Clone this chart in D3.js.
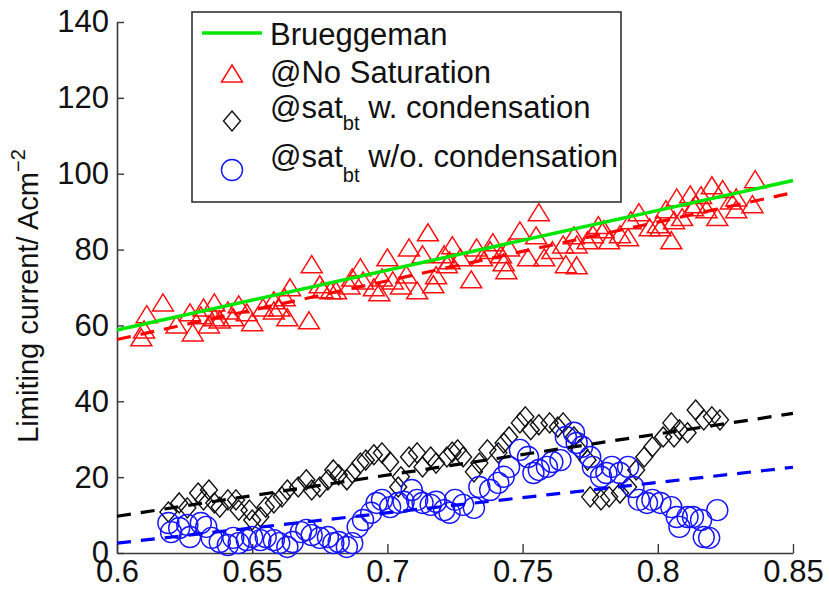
<!DOCTYPE html>
<html>
<head>
<meta charset="utf-8">
<script src="https://cdn.jsdelivr.net/npm/d3@7"></script>
<style>
html,body{margin:0;padding:0;background:#fff;}
svg text{font-family:Arial,"Liberation Sans",Helvetica,sans-serif;fill:#111;}
</style>
</head>
<body>
<svg id="chart" width="829" height="590"></svg>
<script>
// ---------- data ----------
const xTicks = [0.6, 0.65, 0.7, 0.75, 0.8, 0.85];
const xTickLabels = ["0.6", "0.65", "0.7", "0.75", "0.8", "0.85"];
const yTicks = [0, 20, 40, 60, 80, 100, 120, 140];
const yTickLabels = ["0", "20", "40", "60", "80", "100", "120", "140"];

const seriesNames = ["Brueggeman", "@No Saturation", "@sat", "@sat"];

// @No Saturation (red triangles)
const noSatX = [0.609,0.610,0.611,0.617,0.622,0.627,0.628,0.632,0.634,0.636,0.636,0.641,0.645,0.648,0.650,0.654,0.658,0.662,0.663,0.664,0.671,0.672,0.675,0.679,0.681,0.687,0.690,0.695,0.698,0.700,0.702,0.707,0.708,0.711,0.713,0.715,0.718,0.721,0.724,0.727,0.731,0.733,0.738,0.739,0.743,0.744,0.745,0.749,0.752,0.755,0.756,0.758,0.761,0.766,0.769,0.770,0.770,0.774,0.778,0.780,0.782,0.786,0.789,0.790,0.793,0.797,0.800,0.803,0.805,0.806,0.807,0.809,0.812,0.814,0.816,0.818,0.820,0.822,0.824,0.827,0.829,0.835,0.836,
  0.631,0.638,0.643,0.658,0.660,0.676,0.686,0.691,0.697,0.705,0.717,0.723,0.722,0.735,0.742,0.765,0.776,0.801,0.813,0.829];
const noSatY = [56.2,58.3,62.3,65.4,59.6,62.8,57.5,64.1,59.6,65.4,61.5,63.3,64.9,62.8,60.2,64.1,66.0,66.8,61.5,69.4,60.7,75.5,70.2,68.6,68.6,72.0,74.7,69.4,72.0,77.3,71.2,72.8,79.9,68.6,78.1,83.9,72.6,78.1,80.5,77.3,71.5,79.9,79.2,81.3,76.0,73.9,79.9,84.4,77.3,83.1,89.2,77.3,79.2,75.5,83.1,75.2,80.7,81.8,85.8,84.7,81.8,83.4,82.6,87.1,89.2,85.2,86.0,90.0,81.8,87.1,93.1,87.9,93.9,91.3,93.7,90.0,96.3,87.9,95.3,92.3,90.0,91.3,97.9,
  62.0,60.9,61.5,63.3,64.1,68.9,69.9,71.2,68.1,69.9,70.2,76.5,75.5,77.3,78.1,80.7,83.4,85.2,90.5,93.1];

// @sat_bt w. condensation (black diamonds)
const satWX = [0.619,0.623,0.626,0.630,0.632,0.634,0.636,0.638,0.641,0.644,0.645,0.649,0.650,0.653,0.655,0.658,0.661,0.663,0.667,0.670,0.672,0.675,0.678,0.680,0.682,0.685,0.687,0.690,0.692,0.695,0.698,0.701,0.704,0.705,0.708,0.711,0.713,0.716,0.718,0.722,0.724,0.726,0.728,0.732,0.734,0.737,0.741,0.743,0.745,0.749,0.751,0.753,0.756,0.760,0.763,0.765,0.769,0.771,0.774,0.775,0.779,0.782,0.786,0.789,0.792,0.795,0.798,0.802,0.805,0.806,0.808,0.811,0.814,0.817,0.820,0.823];
const satWY = [10.8,13.2,11.9,15.8,14.0,16.6,13.2,12.1,14.0,14.0,11.3,11.3,8.7,9.5,12.1,13.2,14.8,16.6,17.4,19.3,16.6,17.4,19.3,21.9,20.6,19.3,21.1,23.7,24.5,25.9,26.4,24.0,17.4,20.1,25.3,26.4,22.7,25.3,23.7,25.3,26.6,27.2,25.3,21.4,23.7,27.2,26.4,29.0,30.6,34.3,35.9,32.5,33.8,34.3,33.2,34.3,30.6,27.2,24.5,14.8,14.0,14.8,15.8,17.4,21.9,25.3,28.0,30.6,34.3,30.6,32.5,31.7,37.7,35.1,35.9,35.1];

// @sat_bt w/o. condensation (blue circles)
const satWoX = [0.619,0.620,0.623,0.626,0.627,0.631,0.633,0.635,0.638,0.641,0.643,0.645,0.648,0.650,0.653,0.655,0.658,0.660,0.663,0.665,0.668,0.670,0.672,0.675,0.678,0.680,0.682,0.685,0.687,0.689,0.691,0.694,0.696,0.698,0.701,0.704,0.706,0.709,0.711,0.713,0.716,0.718,0.721,0.723,0.725,0.728,0.732,0.734,0.738,0.741,0.743,0.745,0.749,0.752,0.754,0.756,0.759,0.761,0.764,0.766,0.769,0.770,0.772,0.775,0.776,0.779,0.781,0.783,0.786,0.789,0.791,0.793,0.796,0.798,0.801,0.805,0.807,0.808,0.811,0.813,0.816,0.817,0.819,0.822];
const satWoY = [7.9,5.5,6.6,7.4,4.2,7.9,6.9,4.0,2.9,2.1,4.0,2.6,3.4,4.2,3.4,4.2,3.4,2.6,1.6,2.9,5.5,6.1,4.7,4.0,4.2,2.6,2.9,1.6,2.6,6.9,8.7,10.6,13.2,14.0,12.1,13.2,13.5,16.6,14.0,13.2,12.7,13.5,11.3,10.6,14.0,12.7,11.9,17.4,16.6,18.5,20.1,22.7,27.2,25.3,21.1,21.9,22.7,24.0,24.5,30.6,31.7,29.0,28.0,25.3,22.7,20.1,21.1,22.7,21.1,22.7,17.4,14.0,13.2,14.0,13.2,12.1,9.5,6.9,9.5,9.5,8.7,4.2,4.0,11.3];

// fitted lines (end points)
const lineX = [0.6, 0.85];
const brueggemanY = [58.8, 98.2];
const noSatFitY = [56.3, 95.0];
const satWFitY = [9.7, 36.8];
const satWoFitY = [2.6, 22.6];

// ---------- layout ----------
const svg = d3.select("#chart");
const x = d3.scaleLinear().domain([0.6, 0.85]).range([117, 793]);
const y = d3.scaleLinear().domain([0, 140]).range([553, 22]);

const axisColor = "#3a3a3a";

// axes
const xAxis = svg.append("g").attr("transform", "translate(0,553)")
  .call(d3.axisBottom(x).tickValues(xTicks).tickFormat((d,i)=>xTickLabels[i]).tickSizeInner(-9).tickSizeOuter(0));
const yAxis = svg.append("g").attr("transform", "translate(117,0)")
  .call(d3.axisLeft(y).tickValues(yTicks).tickFormat((d,i)=>yTickLabels[i]).tickSizeInner(-7).tickSizeOuter(0));
[xAxis, yAxis].forEach(g => {
  g.select(".domain").attr("stroke", axisColor).attr("stroke-width", 1.6);
  g.selectAll(".tick line").attr("stroke", axisColor).attr("stroke-width", 1.4);
  g.selectAll(".tick text").style("font-size", "31px").attr("fill", "#111")
   .style("font-family", "Arial, 'Liberation Sans', sans-serif");
});
xAxis.selectAll(".tick text").attr("dy", null).attr("y", 582);
xAxis.selectAll(".tick text").attr("y", 29);
yAxis.selectAll(".tick text").attr("x", -8);

// y label
const yl = svg.append("text")
  .attr("transform", "translate(38,296) rotate(-90)")
  .attr("text-anchor", "middle")
  .style("font-size", "29px");
yl.append("tspan").text("Limiting current/ Acm");
yl.append("tspan").attr("dy", -13).style("font-size", "20px").text("\u22122");

// markers
const plot = svg.append("g");
const triPath = "M0,-11 L10.5,6 L-10.5,6 Z";
const diaPath = "M0,-10 L8.5,0 L0,10 L-8.5,0 Z";

plot.append("g").selectAll("path").data(d3.range(noSatX.length)).join("path")
  .attr("d", triPath)
  .attr("transform", i => `translate(${x(noSatX[i])},${y(noSatY[i])})`)
  .attr("fill", "none").attr("stroke", "#ff1010").attr("stroke-width", 1.5);

plot.append("g").selectAll("path").data(d3.range(satWX.length)).join("path")
  .attr("d", diaPath)
  .attr("transform", i => `translate(${x(satWX[i])},${y(satWY[i])})`)
  .attr("fill", "none").attr("stroke", "#111").attr("stroke-width", 1.4);

plot.append("g").selectAll("circle").data(d3.range(satWoX.length)).join("circle")
  .attr("cx", i => x(satWoX[i])).attr("cy", i => y(satWoY[i])).attr("r", 10.5)
  .attr("fill", "none").attr("stroke", "#1515ff").attr("stroke-width", 1.4);

// lines
const line = d3.line().x(d => x(d[0])).y(d => y(d[1]));
function drawLine(ys, color, dash, w) {
  svg.append("path").datum(lineX.map((v,i)=>[v, ys[i]]))
    .attr("d", line).attr("fill", "none").attr("stroke", color)
    .attr("stroke-width", w).attr("stroke-dasharray", dash);
}
drawLine(noSatFitY, "#ff0000", "14,10", 3.2);
drawLine(brueggemanY, "#00e600", null, 3.5);
drawLine(satWFitY, "#000000", "14,10", 3.2);
drawLine(satWoFitY, "#0000ff", "14,10", 3.2);

// legend
const lg = svg.append("g");
lg.append("rect").attr("x", 192).attr("y", 12).attr("width", 429).attr("height", 190)
  .attr("fill", "#fff").attr("stroke", "#333").attr("stroke-width", 1.6);
lg.append("line").attr("x1", 202).attr("x2", 262).attr("y1", 33).attr("y2", 33)
  .attr("stroke", "#00e600").attr("stroke-width", 3.5);
lg.append("path").attr("d", triPath).attr("transform", "translate(232,76)")
  .attr("fill", "none").attr("stroke", "#ff1010").attr("stroke-width", 1.5);
lg.append("path").attr("d", diaPath).attr("transform", "translate(232,121)")
  .attr("fill", "none").attr("stroke", "#111").attr("stroke-width", 1.4);
lg.append("circle").attr("cx", 232).attr("cy", 170).attr("r", 10.5)
  .attr("fill", "none").attr("stroke", "#1515ff").attr("stroke-width", 1.4);

const fs = "31px";
lg.append("text").attr("x", 270).attr("y", 45).style("font-size", fs).text(seriesNames[0]);
lg.append("text").attr("x", 270).attr("y", 83).style("font-size", fs).text(seriesNames[1]);
const t3 = lg.append("text").attr("x", 270).attr("y", 118).style("font-size", fs);
t3.append("tspan").text(seriesNames[2]);
t3.append("tspan").attr("dy", 12).style("font-size", "20px").text("bt");
t3.append("tspan").attr("dy", -12).text(" w. condensation");
const t4 = lg.append("text").attr("x", 270).attr("y", 167).style("font-size", fs);
t4.append("tspan").text(seriesNames[3]);
t4.append("tspan").attr("dy", 15).style("font-size", "20px").text("bt");
t4.append("tspan").attr("dy", -15).text(" w/o. condensation");
</script>
</body>
</html>
